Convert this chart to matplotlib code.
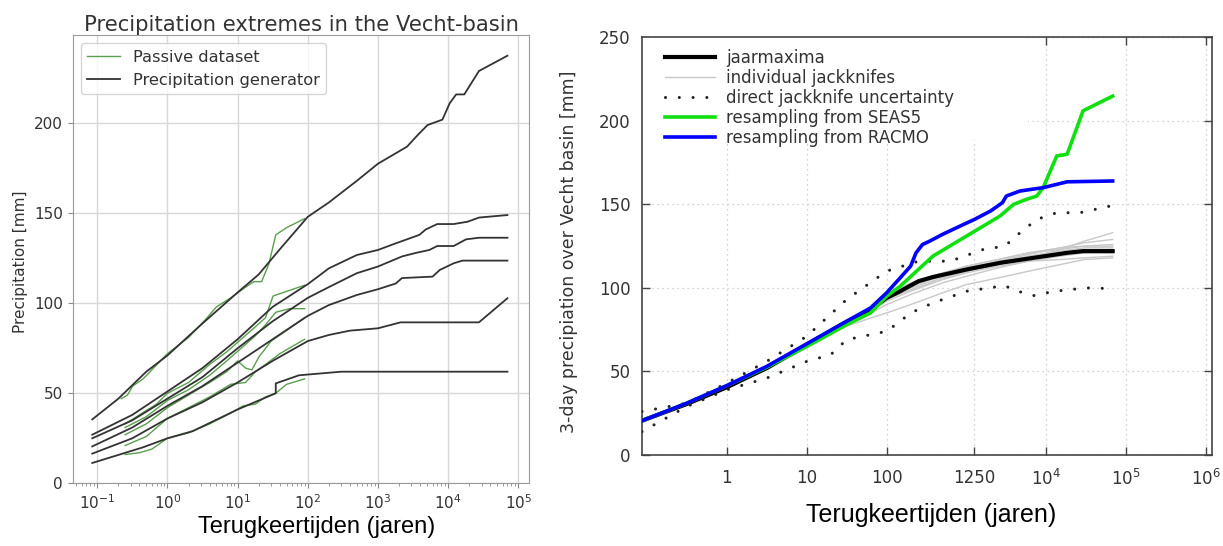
import matplotlib
matplotlib.use("Agg")
import matplotlib.pyplot as plt
from matplotlib.patches import Rectangle
from matplotlib.ticker import NullFormatter, LogLocator

# ---------- left panel data (return period in years, precipitation in mm) ----------
gen1_x = [0.085, 0.2, 0.5, 1, 3, 10, 20, 40, 100, 200, 500, 1000, 2600, 3700, 5100, 8300, 10500, 13000, 17000, 27500, 70000]
gen1_y = [35.5, 47, 62, 71, 88, 106, 116, 130, 148, 156, 168, 177.5, 187, 193.5, 199, 202, 211, 216, 216, 229, 237.5]
gen2_x = [0.085, 0.316, 1, 3.16, 10, 31.6, 100, 200, 500, 1000, 1800, 3900, 4800, 7000, 12000, 19000, 27500, 70000]
gen2_y = [27, 38, 51, 64, 80, 98, 110.6, 119.4, 126.8, 129.6, 133.3, 138, 141, 144, 144, 145.3, 147.6, 149]
gen3_x = [0.085, 0.316, 1, 3.16, 10, 31.6, 100, 200, 500, 1000, 2200, 3500, 5400, 7000, 12000, 18000, 27500, 70000]
gen3_y = [25, 35, 47, 59, 75, 90, 103, 109, 116.7, 120.4, 126, 128, 129.6, 131.8, 131.8, 135.5, 136.4, 136.4]
gen4_x = [0.085, 0.316, 1, 3.16, 10, 31.6, 100, 200, 500, 1000, 1800, 2200, 6000, 7600, 12000, 16000, 70000]
gen4_y = [20.5, 31, 43, 54, 67, 80, 93, 99, 104.6, 107.8, 111, 114, 114.8, 118.5, 122.2, 123.7, 123.7]
gen5_x = [0.085, 0.316, 1, 3.16, 10, 31.6, 100, 200, 400, 1000, 2100, 27500, 70000]
gen5_y = [16.5, 25, 36, 45, 56, 68, 79, 82.4, 84.8, 86.1, 89.4, 89.4, 102.8]
gen6_x = [0.085, 0.45, 1, 2.3, 10, 20, 35, 35, 75, 300, 70000]
gen6_y = [11.3, 20, 25, 29, 41, 46, 50, 55.5, 60, 62, 62]

pas1_x = [0.22, 0.27, 0.32, 0.45, 0.6, 1, 2, 3.5, 5, 8, 12, 17, 22, 28, 35, 50, 90]
pas1_y = [47, 49, 54, 58, 63, 72, 81, 91, 98, 103, 108, 112, 112, 122, 138, 142, 147]
pas2_x = [0.25, 0.4, 0.7, 1, 2, 4, 7, 12, 18, 25, 32, 45, 90]
pas2_y = [33, 38, 44, 50, 56, 66, 73, 81, 87, 92, 104, 106, 110]
pas3_x = [0.25, 0.5, 1, 2, 4, 7, 12, 18, 25, 35, 55, 90]
pas3_y = [31, 37, 46, 52, 60, 68, 76, 82, 88, 95, 97, 97]
pas4_x = [0.25, 0.5, 1, 2, 4, 7, 10, 13, 16, 20, 30, 50, 90]
pas4_y = [27, 33, 42, 49, 56, 62, 68, 64, 63, 70, 79, 85, 92]
pas5_x = [0.25, 0.5, 1, 2, 4, 8, 13, 18, 25, 40, 90]
pas5_y = [21, 26, 36, 42, 48, 55, 56, 62, 66, 72, 80]
pas6_x = [0.25, 0.4, 0.6, 1, 2, 4, 8, 12, 18, 25, 35, 50, 90]
pas6_y = [16, 17, 19, 25, 28, 33, 39, 43, 44, 48, 50, 55, 58]

xticks_l = [1e-1, 1, 10, 100, 1e3, 1e4, 1e5]

# ---------- right panel data ----------
jaar_x = [0.087, 0.316, 1, 3.16, 10, 25, 40, 63, 100, 148, 251, 380, 1000, 2630, 6900, 18200, 28800, 67600]
jaar_y = [20.5, 30.5, 40.5, 52, 66, 77, 82, 87, 94, 98, 104, 106.5, 111, 115, 118, 121, 122, 122]

jk_x = [0.087, 0.316, 1, 3.16, 10, 31.6, 63, 100, 200, 500, 1000, 2500, 6000, 15000, 30000, 67600]
jk1 = [20.5, 30, 40, 51, 64, 77, 82, 85, 90, 97, 102, 106, 110, 114, 117, 118]
jk2 = [20.5, 30.5, 40.5, 52, 66, 79, 85, 90, 96, 103, 107, 112, 116, 117, 118, 119]
jk3 = [20.5, 30.5, 40.5, 52, 66, 80, 87, 93, 99, 105, 109, 113, 116, 119, 121, 121]
jk4 = [20.5, 30.5, 40.5, 52, 66, 80, 87, 95, 102, 108, 112, 115, 119, 122, 124, 124]
jk5 = [20.5, 30.5, 40.5, 52, 66, 80, 88, 96, 103, 109, 113, 117, 121, 123, 125, 126]
jk6 = [20.5, 30.5, 40.5, 52, 66, 80, 87, 94, 101, 107, 112, 116, 120, 124, 127, 129]
jk7 = [20.5, 30.5, 40.5, 52, 66, 80, 87, 94, 100, 106, 110, 114, 118, 123, 128, 133]
jk8 = [20.5, 30.5, 40.5, 52, 66, 81, 88, 95, 102, 108, 113, 117, 121, 124, 125, 125]
jk9 = [20.5, 30.5, 40.5, 52, 66, 79, 86, 92, 98, 105, 110, 114, 118, 121, 123, 123]

up_x = [0.087, 0.316, 1, 3.16, 10, 31.6, 100, 158, 251, 630, 1620, 3020, 4680, 7590, 13500, 26300, 63100]
up_y = [26, 31, 43, 56, 71, 93, 110, 113, 116, 116, 123, 125, 133, 141, 145, 145, 149]
lo_x = [0.087, 0.316, 1, 3.16, 10, 20, 31.6, 100, 148, 200, 380, 1000, 3020, 3980, 6920, 12600, 31600, 63100]
lo_y = [14, 29, 39, 46, 56, 60, 69, 74, 80, 85, 91, 98, 101.4, 98.6, 95.4, 98, 100, 99.6]

seas_x = [0.087, 0.316, 1, 3.16, 10, 31.6, 63, 100, 148, 380, 1000, 2630, 3890, 5620, 7590, 9120, 13500, 18200, 28800, 67600]
seas_y = [20.5, 31, 41.5, 52.5, 65, 78, 85, 95, 101, 119, 131, 143, 150, 153, 155, 160, 179, 180, 206, 214.8]
racmo_x = [0.087, 0.316, 1, 3.16, 10, 31.6, 63, 100, 148, 200, 234, 282, 347, 500, 832, 1260, 2000, 2820, 3160, 4680, 9120, 18200, 67600]
racmo_y = [20.5, 31, 41.5, 53, 66.5, 80, 88, 97, 106, 113, 121, 126, 128, 132, 137, 141, 146, 151, 155, 158, 160, 163.5, 164]

xticks_r = [1, 10, 100, 1250, 1e4, 1e5, 1e6]
xticklabels_r = ["1", "10", "100", "1250", "$10^4$", "$10^5$", "$10^6$"]

fig = plt.figure(figsize=(12.23, 5.46), dpi=100)

# ================= left panel =================
ax1 = fig.add_axes([0.0594, 0.1148, 0.3734, 0.8211])
gen_col = "#333333"
pas_col = "#5a9e4e"
first = True
for px, py in [(pas1_x, pas1_y), (pas2_x, pas2_y), (pas3_x, pas3_y),
               (pas4_x, pas4_y), (pas5_x, pas5_y), (pas6_x, pas6_y)]:
    ax1.plot(px, py, color=pas_col, lw=1.0, label="Passive dataset" if first else None)
    first = False
first = True
for gx, gy in [(gen1_x, gen1_y), (gen2_x, gen2_y), (gen3_x, gen3_y),
               (gen4_x, gen4_y), (gen5_x, gen5_y), (gen6_x, gen6_y)]:
    ax1.plot(gx, gy, color=gen_col, lw=1.3, label="Precipitation generator" if first else None)
    first = False
ax1.set_xscale("log")
ax1.set_xticks(xticks_l)
ax1.xaxis.set_minor_locator(LogLocator(base=10, subs=range(2, 10), numticks=20))
ax1.xaxis.set_minor_formatter(NullFormatter())
ax1.set_xlim(10 ** -1.35, 10 ** 5.157)
ax1.set_ylim(0, 249)
ax1.set_yticks([0, 50, 100, 150, 200])
ax1.grid(True, which="major", color="#d8d8d8", lw=1.0)
ax1.set_axisbelow(True)
for s in ax1.spines.values():
    s.set_color("#9a9a9a")
ax1.tick_params(which="both", colors="#888888", labelcolor="#333333", labelsize=11)
ax1.set_title("Precipitation extremes in the Vecht-basin", fontsize=15.2, color="#333333",
              pad=3)
ax1.legend(loc="upper left", fontsize=11.7, labelcolor="#333333")
fig.text(21 / 1223, 1 - 262 / 546, "Precipitation [mm]", rotation=90, ha="center", va="center",
         fontsize=11, color="#333333")
fig.text(435 / 1223, 1 - 533.5 / 546, "Terugkeertijden (jaren)", ha="right", va="baseline",
         fontsize=17, family="Liberation Sans", color="black")

# ================= right panel =================
ax2 = fig.add_axes([0.5247, 0.1667, 0.4661, 0.765])
for jy in [jk1, jk2, jk3, jk4, jk5, jk6, jk7, jk8, jk9]:
    ax2.plot(jk_x, jy, color="#c8c8c8", lw=1.0, zorder=2)
ax2.plot([], [], color="black", lw=3, label="jaarmaxima")
ax2.plot([], [], color="#c8c8c8", lw=1.0, label="individual jackknifes")
ax2.plot(jaar_x, jaar_y, color="black", lw=3, zorder=3)
dot = (0, (0.01, 4.5))
ax2.plot(up_x, up_y, color="#222222", lw=2.2, ls=dot, dash_capstyle="round", zorder=4,
         label="direct jackknife uncertainty")
ax2.plot(lo_x, lo_y, color="#222222", lw=2.2, ls=dot, dash_capstyle="round", zorder=4)
ax2.plot(seas_x, seas_y, color="#10e010", lw=2.6, zorder=5, label="resampling from SEAS5")
ax2.plot(racmo_x, racmo_y, color="#0000ff", lw=2.6, zorder=6, label="resampling from RACMO")

ax2.set_xscale("log")
ax2.set_xlim(10 ** -1.064, 10 ** 6.07)
ax2.set_ylim(0, 250)
ax2.set_yticks([0, 50, 100, 150, 200, 250])
ax2.set_xticks(xticks_r)
ax2.set_xticklabels(xticklabels_r)
ax2.minorticks_off()
ax2.grid(True, color="#c4c4c4", lw=0.9, ls=(0, (1, 3)))
ax2.set_axisbelow(True)
ax2.add_patch(Rectangle((0, 0.754), 0.678, 0.246, transform=ax2.transAxes,
                        facecolor="white", edgecolor="none", zorder=1))
for s in ax2.spines.values():
    s.set_color("#444444")
    s.set_linewidth(1.2)
ax2.tick_params(direction="in", top=True, right=True, length=6, width=1.0, color="#444444",
                labelcolor="#333333", labelsize=12, pad=8)
ax2.tick_params(axis="x", pad=10)
ax2.legend(loc="upper left", bbox_to_anchor=(0.02, 1.0), fontsize=12, frameon=False,
           handlelength=3.0, handletextpad=0.7, labelspacing=0.12, borderaxespad=0.3,
           labelcolor="#333333")
fig.text(569 / 1223, 1 - 252 / 546, "3-day precipiation over Vecht basin [mm]", rotation=90,
         ha="center", va="center", fontsize=12.5, color="#333333")
fig.text(806 / 1223, 1 - 522 / 546, "Terugkeertijden (jaren)", ha="left", va="baseline",
         fontsize=18, family="Liberation Sans", color="black")

fig.savefig("out.png", dpi=100)
